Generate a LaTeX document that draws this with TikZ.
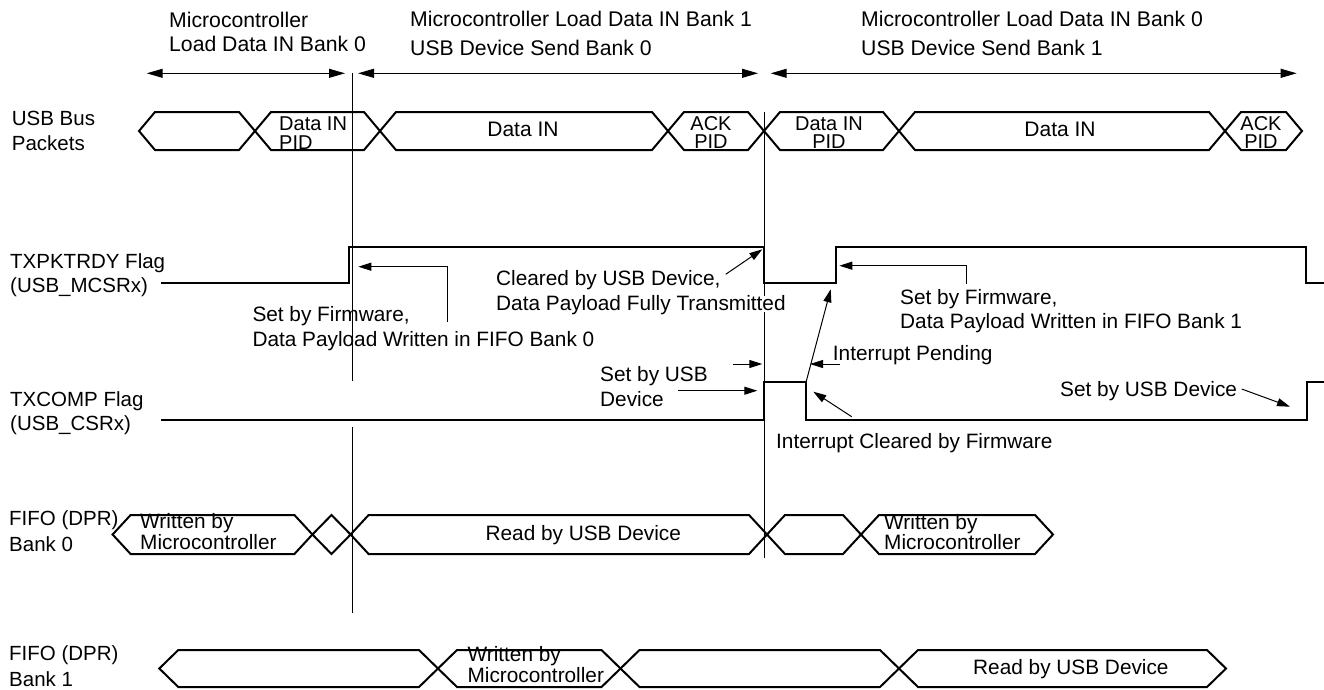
\documentclass[tikz,border=0pt]{standalone}
\usepackage{fontspec}
\setmainfont{Liberation Sans}
\usetikzlibrary{arrows.meta}
\newcommand\pktshape[5]{% x1, x2, yc, half height, slope dx
  \draw[wave] (#1,#3) -- (#1+#5,#3-#4) -- (#2-#5,#3-#4) -- (#2,#3) -- (#2-#5,#3+#4) -- (#1+#5,#3+#4) -- cycle;}
\tikzset{
  wave/.style={line width=2pt, line join=miter},
  marker/.style={line width=1pt},
  arr/.style={line width=1pt, -{Triangle[length=13pt,width=8pt]}},
  darr/.style={line width=1pt, {Triangle[length=16pt,width=9pt]}-{Triangle[length=16pt,width=9pt]}},
  txt/.style={inner sep=0pt, align=left, anchor=base west},
  toplab/.style={txt, font=\fontsize{21.2}{#1}\selectfont},
  rowlab/.style={txt, font=\fontsize{20.5}{#1}\selectfont},
  note/.style={txt, font=\fontsize{20.8}{#1}\selectfont},
  plab/.style={inner sep=0pt, align=center, anchor=base, font=\fontsize{20}{#1}\selectfont},
}
\begin{document}
\begin{tikzpicture}[x=1pt, y=-1pt]
\useasboundingbox (0,0) rectangle (1324,689);
% (multi-line nodes are anchored at the baseline of their last line)

% ---------- top phase labels ----------
\node[toplab=24] (t1) at (169,51) {Microcontroller\\Load Data IN Bank 0};
\node[toplab=28.3] (t2) at (410,55) {Microcontroller Load Data IN Bank 1\\USB Device Send Bank 0};
\node[toplab=28.3] (t3) at (861,55) {Microcontroller Load Data IN Bank 0\\USB Device Send Bank 1};

\coordinate (d1a) at (146.7,73.3); \coordinate (d1b) at (345,73.3);
\coordinate (d2a) at (358,73.3);   \coordinate (d2b) at (758,73.3);
\coordinate (d3a) at (770.7,73.3); \coordinate (d3b) at (1296.7,73.3);
\draw[darr] (d1a) -- (d1b);
\draw[darr] (d2a) -- (d2b);
\draw[darr] (d3a) -- (d3b);

% ---------- row labels ----------
\node[rowlab=25] (r1) at (11.7,150) {USB Bus\\Packets};
\node[rowlab=24] (r2) at (10,292.3) {TXPKTRDY Flag\\(USB\_MCSRx)};
\node[rowlab=24] (r3) at (10,430.7) {TXCOMP Flag\\(USB\_CSRx)};
\node[rowlab=26] (r4) at (9,551.8) {FIFO (DPR)\\Bank 0};
\node[rowlab=26.5] (r5) at (9,686.5) {FIFO (DPR)\\Bank 1};

% ---------- vertical markers ----------
\coordinate (v1a) at (352,73);  \coordinate (v1b) at (352,381);
\coordinate (v1c) at (352,427); \coordinate (v1d) at (352,613);
\coordinate (v2a) at (764,112); \coordinate (v2b) at (764,296);
\coordinate (v2c) at (764,312); \coordinate (v2d) at (764,558);
\draw[marker] (v1a) -- (v1b);
\draw[marker] (v1c) -- (v1d);
\draw[marker] (v2a) -- (v2b);
\draw[marker] (v2c) -- (v2d);

% ---------- USB bus packets ----------
\pktshape{139}{255}{131}{19}{16}
\pktshape{255}{380}{131}{19}{16}
\pktshape{380}{668}{131}{19}{16}
\pktshape{668}{764}{131}{19}{16}
\pktshape{764}{899}{131}{19}{16}
\pktshape{899}{1225}{131}{19}{16}
\pktshape{1225}{1302}{131}{19}{16}
\node[plab=19, anchor=base west, align=left] (p2) at (279,149) {Data IN\\PID};
\node[plab=18, font=\fontsize{21}{18}\selectfont] (p3) at (523,136.7) {Data IN};
\node[plab=18] (p4) at (711,148) {ACK\\PID};
\node[plab=18] (p5) at (829,148) {Data IN\\PID};
\node[plab=18, font=\fontsize{21}{18}\selectfont] (p6) at (1060,136.7) {Data IN};
\node[plab=18] (p7) at (1261,148) {ACK\\PID};

% ---------- TXPKTRDY waveform ----------
\draw[wave] (161,283.3) -- (349,283.3) -- (349,246.7) -- (764,246.7) -- (764,283.3)
  -- (836,283.3) -- (836,246.7) -- (1306,246.7) -- (1306,283.3) -- (1326,283.3);

% ---------- TXCOMP waveform ----------
\draw[wave] (161,420) -- (764,420) -- (764,382.3) -- (806,382.3) -- (806,420)
  -- (1307,420) -- (1307,382.3) -- (1326,382.3);

% ---------- annotations ----------
\node[note=25] (a1) at (252.3,346.7) {Set by Firmware,\\Data Payload Written in FIFO Bank 0};
\coordinate (a1s) at (447.7,321.7); \coordinate (a1k) at (447.7,266.7); \coordinate (a1t) at (358.3,266.7);
\draw[arr] (a1s) -- (a1k) -- (a1t);

\node[note=25] (a2) at (496,310) {Cleared by USB Device,\\Data Payload Fully Transmitted};
\coordinate (a2s) at (725.7,274.3); \coordinate (a2t) at (762.3,249.3);
\draw[arr] (a2s) -- (a2t);

\node[note=24.3] (a3) at (900,328.3) {Set by Firmware,\\Data Payload Written in FIFO Bank 1};
\coordinate (a3s) at (966,284); \coordinate (a3k) at (966,265.7); \coordinate (a3t) at (839.3,265.7);
\draw[arr] (a3s) -- (a3k) -- (a3t);

\node[note=24] (a4) at (832.7,360) {Interrupt Pending};
\coordinate (a4s) at (840.3,364); \coordinate (a4t) at (810,364);
\draw[arr] (a4s) -- (a4t);
\coordinate (a4bs) at (806,382.3); \coordinate (a4bt) at (830.7,289.3);
\draw[arr] (a4bs) -- (a4bt);

\node[note=24.3] (a5) at (600,406) {Set by USB\\Device};
\coordinate (a5s) at (732.7,364); \coordinate (a5t) at (762.3,364);
\draw[arr] (a5s) -- (a5t);
\coordinate (a5bs) at (678.3,390.7); \coordinate (a5bt) at (757.3,390.7);
\draw[arr] (a5bs) -- (a5bt);

\node[note=24] (a6) at (776,448.3) {Interrupt Cleared by Firmware};
\coordinate (a6s) at (851.7,416.7); \coordinate (a6t) at (813.3,391.7);
\draw[arr] (a6s) -- (a6t);

\node[note=24] (a7) at (1060,396.7) {Set by USB Device};
\coordinate (a7s) at (1241.7,389); \coordinate (a7t) at (1290,406.7);
\draw[arr] (a7s) -- (a7t);

% ---------- FIFO bank 0 ----------
\pktshape{112.6}{312.4}{534.5}{19.5}{18}
\draw[wave] (312.4,534.5) -- (331.5,515) -- (350.6,534.5) -- (331.5,554) -- cycle;
\pktshape{350.6}{767}{534.5}{19.5}{18}
\pktshape{767}{861}{534.5}{19.5}{18}
\pktshape{861}{1053}{534.5}{19.5}{18}
\node[note=17.5] (f1) at (140,549.2) {Written by\\Microcontroller};
\node[note=18] (f2) at (485.4,540) {Read by USB Device};
\node[note=17] (f3) at (884,549.7) {Written by\\Microcontroller};

% ---------- FIFO bank 1 ----------
\pktshape{159.3}{438}{668.5}{18.5}{19}
\pktshape{438}{620.5}{668.5}{18.5}{19}
\pktshape{620.5}{899}{668.5}{18.5}{19}
\pktshape{899}{1226}{668.5}{18.5}{19}
\node[note=16.3] (g1) at (467.4,682.3) {Written by\\Microcontroller};
\node[note=18] (g2) at (973,674) {Read by USB Device};
\end{tikzpicture}
\end{document}
